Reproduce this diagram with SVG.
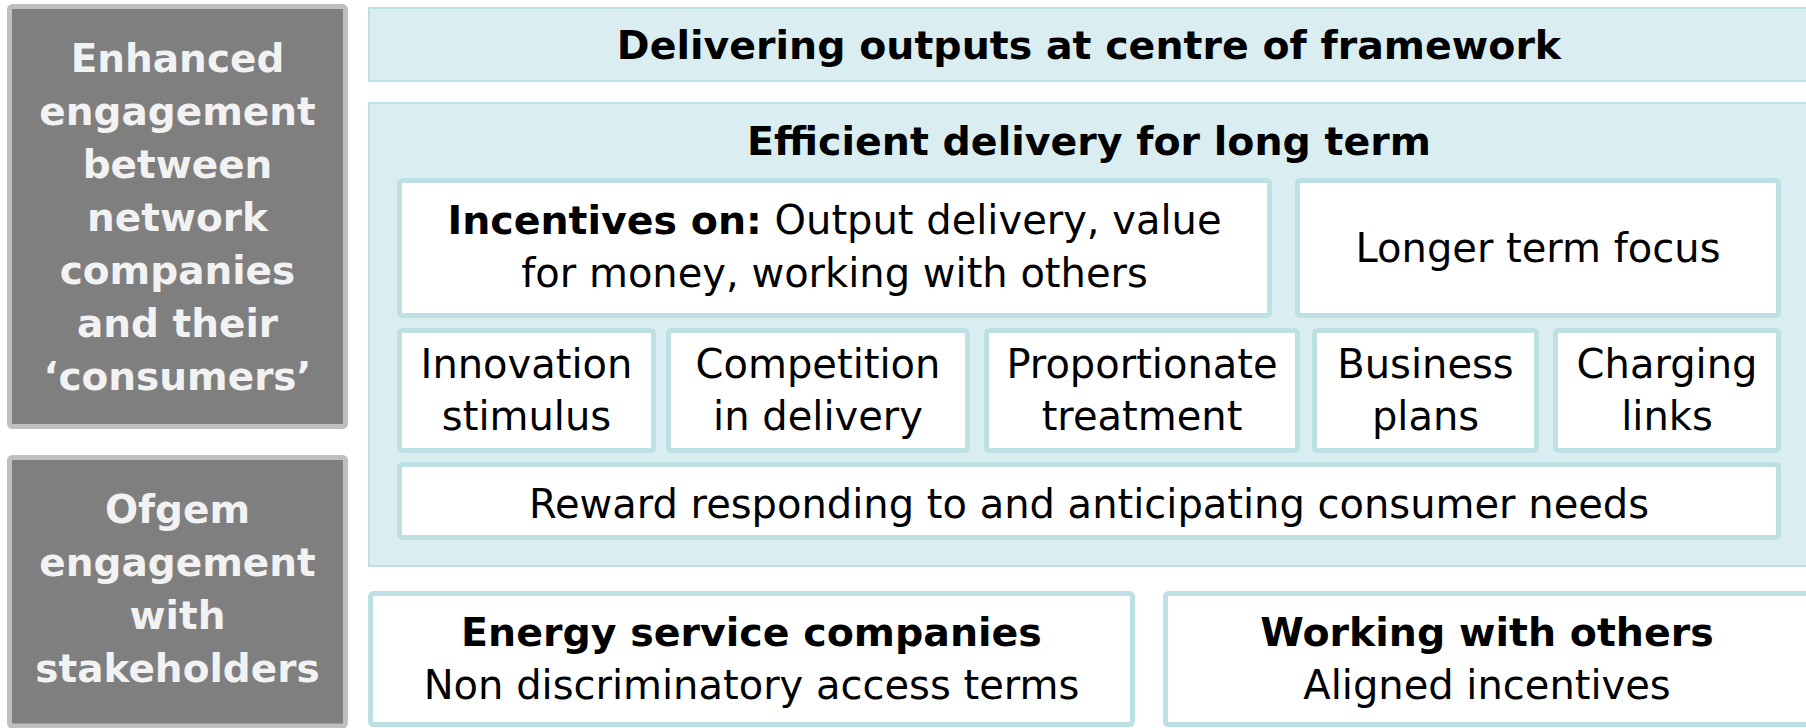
<svg xmlns="http://www.w3.org/2000/svg" width="1806" height="728" viewBox="0 0 1806 728">
  <style>
    .side { fill: #7f7f7f; stroke: #bfbfbf; stroke-width: 5; }
    .side-t { font-family: "DejaVu Sans", Verdana, sans-serif; font-weight: bold; font-size: 39px; fill: #f2f2f2; text-anchor: middle; }
    .band { fill: #daedf0; stroke: #bde0e4; stroke-width: 2; }
    .cell { fill: #ffffff; stroke: #bde0e4; stroke-width: 5; }
    .t { font-family: "DejaVu Sans", Verdana, sans-serif; font-size: 40px; fill: #000000; text-anchor: middle; }
    .b { font-weight: bold; font-size: 39.5px; }
  </style>

  <!-- left-hand engagement columns -->
  <g id="enhanced-engagement">
    <rect class="side" x="9.5" y="6.5" width="336" height="420" rx="3"/>
    <text class="side-t" x="177.5" y="72">Enhanced</text>
    <text class="side-t" x="177.5" y="125">engagement</text>
    <text class="side-t" x="177.5" y="178">between</text>
    <text class="side-t" x="177.5" y="231">network</text>
    <text class="side-t" x="177.5" y="284">companies</text>
    <text class="side-t" x="177.5" y="337">and their</text>
    <text class="side-t" x="177.5" y="390">‘consumers’</text>
  </g>
  <g id="ofgem-engagement">
    <rect class="side" x="9.5" y="457.5" width="336" height="268.5" rx="3"/>
    <text class="side-t" x="177.5" y="523">Ofgem</text>
    <text class="side-t" x="177.5" y="576">engagement</text>
    <text class="side-t" x="177.5" y="629">with</text>
    <text class="side-t" x="177.5" y="682">stakeholders</text>
  </g>

  <!-- top banner -->
  <g id="delivering-outputs">
    <rect class="band" x="369" y="8" width="1450" height="73"/>
    <text class="t b" x="1089" y="59">Delivering outputs at centre of framework</text>
  </g>

  <!-- central panel and its cells -->
  <g id="efficient-delivery">
    <rect class="band" x="369" y="103" width="1450" height="463"/>
    <text class="t b" x="1089" y="155">Efficient delivery for long term</text>
  </g>
  <g id="incentives">
    <rect class="cell" x="399.5" y="180.5" width="870" height="135" rx="3"/>
    <text class="t" x="834.5" y="234"><tspan class="b">Incentives on:</tspan> Output delivery, value</text>
    <text class="t" x="834.5" y="287">for money, working with others</text>
  </g>
  <g id="longer-term">
    <rect class="cell" x="1297.5" y="180.5" width="481" height="135" rx="3"/>
    <text class="t" x="1538" y="262">Longer term focus</text>
  </g>
  <g id="innovation">
    <rect class="cell" x="399.5" y="330.5" width="254" height="120" rx="3"/>
    <text class="t" x="526.5" y="378">Innovation</text>
    <text class="t" x="526.5" y="430">stimulus</text>
  </g>
  <g id="competition">
    <rect class="cell" x="668.5" y="330.5" width="299" height="120" rx="3"/>
    <text class="t" x="818" y="378">Competition</text>
    <text class="t" x="818" y="430">in delivery</text>
  </g>
  <g id="proportionate">
    <rect class="cell" x="986.5" y="330.5" width="311" height="120" rx="3"/>
    <text class="t" x="1142" y="378">Proportionate</text>
    <text class="t" x="1142" y="430">treatment</text>
  </g>
  <g id="business-plans">
    <rect class="cell" x="1314.5" y="330.5" width="222" height="120" rx="3"/>
    <text class="t" x="1425.5" y="378">Business</text>
    <text class="t" x="1425.5" y="430">plans</text>
  </g>
  <g id="charging-links">
    <rect class="cell" x="1555.5" y="330.5" width="223" height="120" rx="3"/>
    <text class="t" x="1667" y="378">Charging</text>
    <text class="t" x="1667" y="430">links</text>
  </g>
  <g id="reward">
    <rect class="cell" x="399.5" y="464.5" width="1379" height="73" rx="3"/>
    <text class="t" x="1089" y="518">Reward responding to and anticipating consumer needs</text>
  </g>

  <!-- bottom row -->
  <g id="energy-service">
    <rect class="cell" x="370.5" y="593.5" width="762" height="131" rx="3"/>
    <text class="t b" x="751.5" y="646">Energy service companies</text>
    <text class="t" x="751.5" y="699">Non discriminatory access terms</text>
  </g>
  <g id="working-with-others">
    <rect class="cell" x="1165.5" y="593.5" width="643" height="131" rx="3"/>
    <text class="t b" x="1487" y="646">Working with others</text>
    <text class="t" x="1487" y="699">Aligned incentives</text>
  </g>

  <g id="connectors"/>
</svg>
